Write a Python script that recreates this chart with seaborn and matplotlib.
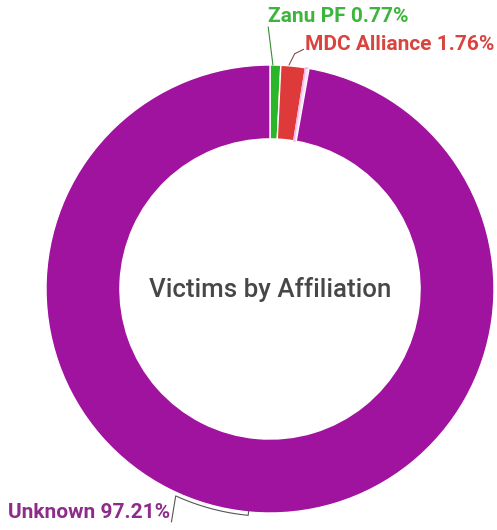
import numpy as np
import matplotlib
matplotlib.use("Agg")
import matplotlib.pyplot as plt
import seaborn as sns

categories = ["Zanu PF", "MDC Alliance", "Other", "Unknown"]
values = [0.77, 1.76, 0.26, 97.21]
label_texts = ["Zanu PF 0.77%", "MDC Alliance 1.76%", None, "Unknown 97.21%"]
slice_colors = ["#2bb52b", "#df3a3a", "#fbe6f7", "#a0139f"]
label_colors = ["#3db53d", "#d9443f", None, "#8e2c8c"]
title = "Victims by Affiliation"

sns.set_theme(style="white")
plt.rcParams['font.family'] = ['Roboto', 'DejaVu Sans']

W, H = 497, 530
fig = plt.figure(figsize=(W / 100, H / 100), dpi=100)
cx, cy, R = 270, 289, 224
ax = fig.add_axes([(cx - R) / W, (H - cy - R) / H, 2 * R / W, 2 * R / H])

wedges, _ = ax.pie(values, colors=slice_colors, startangle=90, counterclock=False,
                   radius=1.0, wedgeprops=dict(width=0.33, edgecolor="white", linewidth=1.0))
wedges[2].set_edgecolor("#f3b6ea")
ax.set_xlim(-1, 1)
ax.set_ylim(-1, 1)
ax.axis("off")

ax.text(0, 0.0, title, ha="center", va="center", fontsize=18.6, fontweight="medium",
        color="#474747")

fs = 15
# Zanu PF label
ax.text(-0.01, 1.215, label_texts[0], ha="left", va="center", fontsize=fs,
        fontweight="bold", color=label_colors[0], clip_on=False)
ax.plot([0.013, -0.008], [1.0, 1.17], color="#3a8a3a", lw=0.8, clip_on=False)

# MDC label
ax.text(0.155, 1.09, label_texts[1], ha="left", va="center", fontsize=fs,
        fontweight="bold", color=label_colors[1], clip_on=False)
ax.plot([0.085, 0.11, 0.15], [1.0, 1.05, 1.07], color="#8a4a4a", lw=0.8, clip_on=False)

# Unknown label
ax.text(-0.445, -1.0, label_texts[3], ha="right", va="center", fontsize=fs,
        fontweight="bold", color=label_colors[3], clip_on=False)
ang = np.radians(np.linspace(245.5, 264.5, 30))
arcx = 1.015 * np.cos(ang)
arcy = 1.015 * np.sin(ang)
lx = np.concatenate([[-0.44], arcx, [0.995 * np.cos(ang[-1])]])
ly = np.concatenate([[-1.04], arcy, [0.995 * np.sin(ang[-1])]])
ax.plot(lx, ly, color="#555555", lw=0.8, clip_on=False)

fig.savefig("out.png", dpi=100, facecolor="white")
